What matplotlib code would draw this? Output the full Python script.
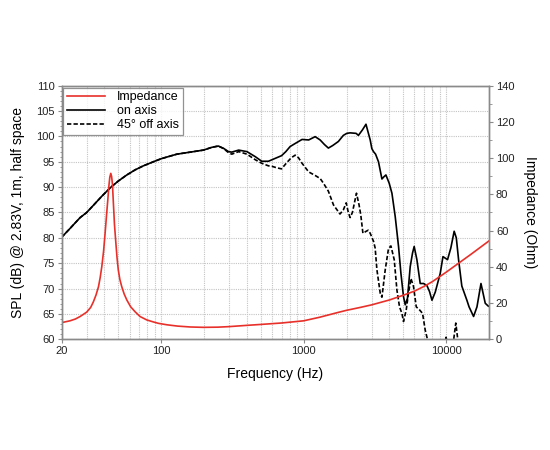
import matplotlib
matplotlib.use("Agg")
import matplotlib.pyplot as plt
from matplotlib.ticker import FixedLocator, NullFormatter, MultipleLocator

plt.rcParams['font.family'] = ['Liberation Sans', 'DejaVu Sans']

# ---------------- data ----------------
imp_freq = [20, 22.9, 25, 27, 30, 32, 33.4, 34.9, 36.3, 37.3, 38.3, 39.4, 40.4, 41.3,
            42.2, 43.0, 43.6, 44.3, 44.9, 45.5, 46.2, 47.0, 48.1, 49.0, 50, 51.3,
            52.9, 55, 57.4, 61, 65.6, 71, 79.2, 88, 95.8, 110, 130, 160, 198, 250,
            300, 400, 500, 700, 1000, 1300, 1700, 2000, 2500, 3000, 4000, 5000, 6000,
            7000, 8000, 10000, 12000, 15000, 20000]
imp_ohm = [9.2, 10.2, 11.2, 12.6, 15.0, 17.6, 20.6, 24.5, 29.0, 34.0, 40.1, 48.5, 58.5,
           68.0, 76.9, 85.0, 89.5, 91.6, 89.8, 85.5, 75.1, 63.5, 53.0, 45.0, 38.3, 33.0,
           29.0, 25.0, 21.7, 18.0, 15.2, 12.6, 10.7, 9.6, 8.8, 8.0, 7.3, 6.8, 6.6, 6.7,
           7.0, 7.7, 8.2, 9.0, 10.2, 12.2, 14.6, 16.0, 17.6, 19.0, 21.7, 24.3, 26.6,
           29.2, 31.8, 37.0, 41.5, 47.0, 54.3]

on_freq = [20, 23, 25, 27, 30, 33.4, 38.3, 44, 50, 57.4, 65.6, 75, 90, 100, 115, 129,
           160, 198, 227, 252, 274, 297, 313, 350, 400, 458, 508, 566, 648, 700, 750,
           804, 872, 975, 1085, 1205, 1306, 1400, 1492, 1600, 1754, 1900, 2010, 2120,
           2336, 2425, 2590, 2740, 2850, 2934, 3012, 3094, 3200, 3354, 3546, 3650,
           3782, 3990, 4168, 4395, 4638, 4820, 5026, 5168, 5360, 5600, 5814, 5972,
           6240, 6584, 6950, 7338, 7656, 7960, 8396, 9100, 9510, 10240, 10800, 11400,
           11800, 12240, 12900, 14000, 14500, 15600, 16480, 17580, 18840, 19860, 20000]
on_db = [80.1, 81.9, 83.0, 84.0, 85.0, 86.4, 88.2, 89.9, 91.2, 92.4, 93.4, 94.2, 95.1,
         95.6, 96.1, 96.5, 96.9, 97.3, 97.85, 98.1, 97.65, 97.0, 96.9, 97.3, 97.0, 96.0,
         95.1, 95.1, 95.8, 96.2, 97.0, 98.0, 98.6, 99.4, 99.3, 99.95, 99.3, 98.4, 97.7,
         98.2, 99.0, 100.2, 100.6, 100.7, 100.6, 100.2, 101.3, 102.4, 100.6, 99.3, 97.6,
         97.0, 96.5, 95.0, 91.6, 92.0, 92.4, 90.75, 88.8, 84.2, 78.3, 73.0, 68.4, 66.8,
         68.1, 74.3, 77.0, 78.3, 75.7, 71.0, 71.0, 70.6, 69.4, 67.7, 69.3, 73.0, 76.3,
         75.7, 78.0, 81.3, 80.0, 75.7, 70.5, 67.7, 66.4, 64.5, 66.4, 71.0, 67.1, 66.5,
         66.5]

off_freq = [20, 23, 25, 27, 30, 33.4, 38.3, 44, 50, 57.4, 65.6, 75, 90, 100, 115, 129,
            160, 198, 227, 252, 274, 297, 313, 350, 400, 458, 508, 566, 600, 650, 700,
            760, 820, 872, 920, 975, 1085, 1205, 1306, 1376, 1492, 1620, 1800, 1900,
            1990, 2060, 2120, 2200, 2350, 2450, 2520, 2608, 2750, 2840, 2934, 3096,
            3178, 3270, 3450, 3546, 3740, 3944, 4100, 4326, 4518, 4712, 4900, 5026,
            5252, 5448, 5666, 5908, 6176, 6512, 6838, 7140, 7414, 8000, 9000, 9700,
            10000, 10300, 10800, 11200, 11700, 12200, 13000, 16000, 20000]
off_db = [80.1, 81.9, 83.0, 84.0, 85.0, 86.4, 88.2, 89.9, 91.2, 92.4, 93.4, 94.2, 95.1,
          95.6, 96.1, 96.5, 96.9, 97.3, 97.85, 98.1, 97.6, 96.8, 96.5, 97.0, 96.5, 95.4,
          94.7, 94.2, 94.1, 93.8, 93.6, 94.8, 95.8, 96.3, 95.8, 94.7, 93.0, 92.3, 91.7,
          90.8, 89.2, 86.5, 84.7, 85.5, 86.9, 85.0, 84.0, 85.0, 88.8, 86.5, 84.5, 80.9,
          81.3, 81.5, 80.9, 79.3, 78.0, 73.7, 69.1, 68.3, 73.7, 77.9, 78.4, 75.7, 69.7,
          66.4, 65.1, 63.5, 65.8, 69.1, 72.0, 70.4, 66.4, 65.8, 65.1, 61.8, 59.9, 55.0,
          55.0, 58.0, 60.4, 58.5, 56.0, 59.0, 63.2, 59.0, 55.0, 52.0, 50.0]

x_ticks = [20, 100, 1000, 10000]
x_ticklabels = ['20', '100', '1000', '10000']
x_grid = [30, 40, 50, 60, 70, 80, 90, 200, 300, 400, 500, 600, 700, 800, 900,
          2000, 3000, 4000, 5000, 6000, 7000, 8000, 9000]

# ---------------- figure ----------------
fig = plt.figure(figsize=(5.5, 4.5), dpi=100)
ax = fig.add_axes([0.112, 0.246, 0.777, 0.5636])
ax2 = ax.twinx()

spine_col = '#8a8a8a'
grid_col = '#c4c4c4'

ax.set_xscale('log')
ax.set_xlim(20, 20000)
ax.set_ylim(60, 110)
ax2.set_ylim(0, 140)

ax.xaxis.set_major_locator(FixedLocator(x_ticks))
ax.set_xticklabels(x_ticklabels)
ax.xaxis.set_minor_locator(FixedLocator(x_grid))
ax.xaxis.set_minor_formatter(NullFormatter())
ax.yaxis.set_major_locator(MultipleLocator(5))
ax.yaxis.set_minor_locator(MultipleLocator(1))
ax2.yaxis.set_major_locator(MultipleLocator(20))
ax2.yaxis.set_minor_locator(MultipleLocator(10))

ax.grid(True, which='major', axis='both', linestyle=(0, (1, 1)), color=grid_col, linewidth=0.8)
ax.grid(True, which='minor', axis='x', linestyle=(0, (1, 1)), color=grid_col, linewidth=0.8)

for a in (ax, ax2):
    for s in a.spines.values():
        s.set_color(spine_col)
        s.set_linewidth(1.0)

ax.tick_params(axis='both', which='major', direction='out', length=3, width=0.8,
               color=spine_col, labelsize=8, labelcolor='#222222', pad=2)
ax.tick_params(axis='y', which='minor', direction='out', length=1.8, width=0.6, color=spine_col)
ax.tick_params(axis='x', which='minor', length=0)
ax2.tick_params(axis='y', which='major', direction='out', length=3, width=0.8,
                color=spine_col, labelsize=8, labelcolor='#222222', pad=2)
ax2.tick_params(axis='y', which='minor', direction='out', length=1.8, width=0.6, color=spine_col)

l_on, = ax.plot(on_freq, on_db, color='black', linewidth=1.2, label='on axis')
l_off, = ax.plot(off_freq, off_db, color='black', linewidth=1.2,
                 linestyle=(0, (2.6, 1.3)), label='45° off axis')
l_imp, = ax2.plot(imp_freq, imp_ohm, color='#e8302a', linewidth=1.2, label='Impedance')

ax.set_xlabel('Frequency (Hz)', fontsize=10, labelpad=8)
ax.set_ylabel('SPL (dB) @ 2.83V, 1m, half space', fontsize=10, labelpad=8)
ax2.set_ylabel('Impedance (Ohm)', fontsize=10, rotation=270, labelpad=16)

leg = ax2.legend(handles=[l_imp, l_on, l_off], loc='upper left', fontsize=9,
                 frameon=True, fancybox=False, borderaxespad=0.15, handlelength=3.0,
                 handletextpad=1.0, labelspacing=0.15, borderpad=0.3)
leg.get_frame().set_edgecolor('#777777')
leg.get_frame().set_linewidth(0.9)

fig.savefig('out.png', dpi=100, facecolor='white')
